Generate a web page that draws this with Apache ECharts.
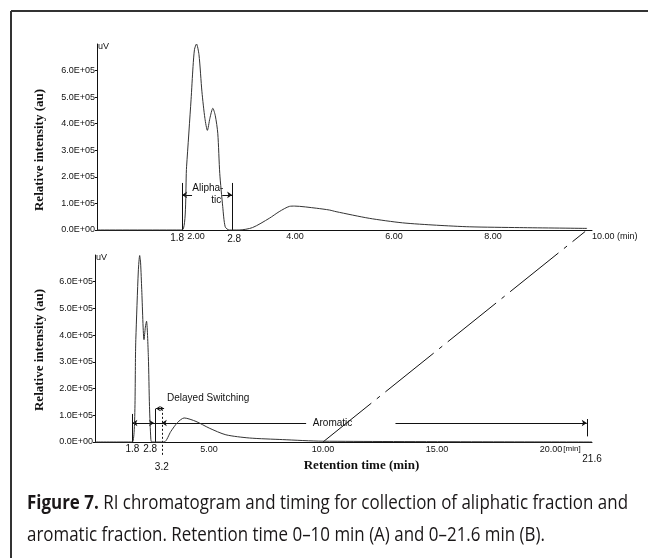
<!DOCTYPE html>
<html>
<head>
<meta charset="utf-8">
<script src="https://cdn.jsdelivr.net/npm/echarts@6/dist/echarts.min.js"></script>
<style>
  html, body { margin: 0; padding: 0; background: #fff; }
  #chart-container { width: 648px; height: 558px; }
</style>
</head>
<body>
<div id="chart-container"></div>
<script>
// (A) 0-10 min chromatogram (uV)
const timeA = [0, 1.72, 1.81, 1.90, 1.94, 1.97, 2.01, 2.06, 2.12, 2.18, 2.23, 2.28, 2.34, 2.39, 2.44, 2.48, 2.54, 2.59, 2.67,
  2.87, 3.14, 3.48, 3.68, 3.89, 3.99, 4.43, 4.70, 4.83, 5.50, 6.17, 6.86, 7.53, 8.54, 9.90];
const signalA = [0, 0, 240000, 490000, 615000, 680000, 700000, 660000, 520000, 420000, 375000, 420000, 458000, 430000, 364000, 213000, 88000, 12000, 0,
  0, 9000, 44000, 69000, 89000, 90000, 82000, 75000, 69000, 44000, 27000, 18000, 12000, 9000, 6000];

// (B) 0-21.6 min chromatogram (uV)
const timeB = [0, 1.64, 1.79, 1.90, 1.96, 2.00, 2.05, 2.15, 2.21, 2.26, 2.34, 2.39, 2.45, 2.49,
  3.03, 3.33, 3.62, 3.91, 4.43, 5.01, 5.74, 6.77, 8.23, 10.0, 21.8];
const signalB = [0, 0, 383000, 640000, 698000, 670000, 570000, 383000, 430000, 452000, 320000, 133000, 10000, 0,
  0, 40000, 73000, 90000, 77000, 52000, 27000, 15000, 9000, 3000, 0];

// collection timing marks (min)
const aliphaticCuts = [1.72, 2.73];
const aliphaticCutLabels = ['1.8', '2.8'];
const aromaticCuts = [1.64, 2.64];
const aromaticCutLabels = ['1.8', '2.8'];
const switchTime = 2.93;
const switchLabel = '3.2';
const aromaticEnd = 21.57;
const aromaticEndLabel = '21.6';

// tick labels
const yTicks = [0, 100000, 200000, 300000, 400000, 500000, 600000];
const xTicksA = [2, 4, 6, 8, 10];
const xTicksB = [5, 10, 15, 20];

const captionBold = 'Figure 7.';
const captionLine1 = ' RI chromatogram and timing for collection of aliphatic fraction and';
const captionLine2 = 'aromatic fraction. Retention time 0\u201310 min (A) and 0\u201321.6 min (B).';

const ink = '#111';
const sans = 'Liberation Sans, Arial, sans-serif';
const serif = 'Liberation Serif, Times New Roman, serif';

function zip(t, v) { return t.map((x, i) => [x, v[i]]); }
function yLabel(v) { return v === 0 ? '0.0E+00' : (v / 100000).toFixed(1) + 'E+05'; }

// caption width, squeeze to fit the column like the printed caption
const capFont = '20px "Open Sans", sans-serif';
const capBoldFont = 'bold 20px "Open Sans", sans-serif';
const cv = document.createElement('canvas').getContext('2d');
cv.font = capBoldFont;
const wBold = cv.measureText(captionBold).width;
cv.font = capFont;
const wRest = cv.measureText(captionLine1).width;
const capScale = 601 / (wBold + wRest);

var dom = document.getElementById('chart-container');
var myChart = echarts.init(dom, null, { renderer: 'canvas' });

function vline(x, y0, y1) { return { coords: [[x, y0], [x, y1]] }; }

var textStyleBase = { color: ink, fontFamily: sans, fontSize: 9, opacity: 1, textBorderWidth: 0 };
var titleFont = 'bold 13px ' + serif;

var option = {
  animation: false,
  backgroundColor: '#fff',
  grid: [
    { left: 97, top: 44, width: 495, height: 186, containLabel: false, outerBoundsMode: 'none' },
    { left: 95, top: 255, width: 497, height: 187, containLabel: false, outerBoundsMode: 'none' }
  ],
  xAxis: [
    {
      gridIndex: 0, type: 'value', min: 0, max: 10, interval: 2,
      axisLine: { lineStyle: { color: ink, width: 1 } },
      axisTick: { show: false }, splitLine: { show: false },
      axisLabel: {
        ...textStyleBase, margin: 2, showMinLabel: false, alignMaxLabel: 'left',
        formatter: v => xTicksA.includes(v) ? (v === 10 ? '10.00 (min)' : v.toFixed(2)) : ''
      }
    },
    {
      gridIndex: 1, type: 'value', min: 0, max: 21.8, interval: 5,
      axisLine: { lineStyle: { color: ink, width: 1 } },
      axisTick: { show: false }, splitLine: { show: false },
      axisLabel: {
        ...textStyleBase, margin: 3, showMinLabel: false, showMaxLabel: false,
        formatter: v => xTicksB.includes(v) ? v.toFixed(2) : ''
      },
      name: 'Retention time (min)', nameLocation: 'middle', nameGap: 17,
      nameTextStyle: { color: ink, fontFamily: serif, fontWeight: 'bold', fontSize: 13, padding: [0, 0, 0, 36] }
    }
  ],
  yAxis: [0, 1].map(i => ({
    gridIndex: i, type: 'value', min: 0, max: 700000, interval: 100000,
    axisLine: { show: true, lineStyle: { color: ink, width: 1 } },
    axisTick: { show: true, length: 2, lineStyle: { color: ink } },
    splitLine: { show: false },
    axisLabel: { ...textStyleBase, margin: 2, showMaxLabel: false, formatter: v => yTicks.includes(v) ? yLabel(v) : '' }
  })),
  graphic: [
    { type: 'line', shape: { x1: 11, y1: 11, x2: 648, y2: 11 }, style: { stroke: '#333', lineWidth: 2 } },
    { type: 'line', shape: { x1: 11, y1: 11, x2: 11, y2: 558 }, style: { stroke: '#333', lineWidth: 2 } },
    { type: 'text', x: 40, y: 150, rotation: Math.PI / 2, style: { text: 'Relative intensity (au)', font: titleFont, fill: ink, align: 'center', verticalAlign: 'middle' } },
    { type: 'text', x: 40, y: 350, rotation: Math.PI / 2, style: { text: 'Relative intensity (au)', font: titleFont, fill: ink, align: 'center', verticalAlign: 'middle' } },
    { type: 'text', x: 98, y: 47, style: { text: 'uV', font: '9px ' + sans, fill: ink, verticalAlign: 'middle' } },
    { type: 'text', x: 96, y: 258, style: { text: 'uV', font: '9px ' + sans, fill: ink, verticalAlign: 'middle' } },
    { type: 'text', x: 27, y: 503, scaleX: capScale, style: { text: captionBold, font: capBoldFont, fill: '#1a1718', verticalAlign: 'middle' } },
    { type: 'text', x: 27 + wBold * capScale, y: 503, scaleX: capScale, style: { text: captionLine1, font: capFont, fill: '#1a1718', verticalAlign: 'middle' } },
    { type: 'text', x: 27, y: 535, scaleX: capScale, style: { text: captionLine2, font: capFont, fill: '#1a1718', verticalAlign: 'middle' } }
  ],
  series: [
    {
      type: 'line', xAxisIndex: 0, yAxisIndex: 0, data: zip(timeA, signalA),
      showSymbol: false, smooth: 0.25, clip: false,
      lineStyle: { color: '#333', width: 1 }
    },
    {
      type: 'line', xAxisIndex: 1, yAxisIndex: 1, data: zip(timeB, signalB),
      showSymbol: false, smooth: 0.25, clip: false,
      lineStyle: { color: '#333', width: 1 }
    },
    // cut lines and arrows, chart A
    {
      type: 'lines', coordinateSystem: 'cartesian2d', xAxisIndex: 0, yAxisIndex: 0, clip: false,
      symbol: ['none', 'none'],
      lineStyle: { color: ink, width: 1, opacity: 1 },
      data: aliphaticCuts.map(x => vline(x, 0, 177000))
    },
    {
      type: 'lines', coordinateSystem: 'cartesian2d', xAxisIndex: 0, yAxisIndex: 0, clip: false,
      symbol: ['none', 'arrow'], symbolSize: 5,
      lineStyle: { color: ink, width: 1, opacity: 1 },
      data: [
        { coords: [[aliphaticCuts[0] + 0.2, 132000], [aliphaticCuts[0], 132000]] },
        { coords: [[aliphaticCuts[1] - 0.2, 132000], [aliphaticCuts[1], 132000]] }
      ]
    },
    // cut lines chart B
    {
      type: 'lines', coordinateSystem: 'cartesian2d', xAxisIndex: 1, yAxisIndex: 1, clip: false,
      symbol: ['none', 'none'],
      lineStyle: { color: ink, width: 1, opacity: 1 },
      data: [vline(aromaticCuts[0], 0, 105000), vline(aromaticCuts[1], 0, 125000), vline(aromaticEnd, 21000, 86000)]
    },
    {
      type: 'lines', coordinateSystem: 'cartesian2d', xAxisIndex: 1, yAxisIndex: 1, clip: false,
      symbol: ['none', 'none'],
      lineStyle: { color: ink, width: 1, opacity: 1, type: [2, 2] },
      data: [vline(switchTime, -48000, 120000)]
    },
    {
      type: 'lines', coordinateSystem: 'cartesian2d', xAxisIndex: 1, yAxisIndex: 1, clip: false,
      symbol: ['arrow', 'none'], symbolSize: 5,
      lineStyle: { color: ink, width: 1, opacity: 1 },
      data: [
        { coords: [[aromaticCuts[0], 71000], [9.26, 71000]] },
        { coords: [[switchTime, 71000], [switchTime + 0.3, 71000]] }
      ]
    },
    {
      type: 'lines', coordinateSystem: 'cartesian2d', xAxisIndex: 1, yAxisIndex: 1, clip: false,
      symbol: ['none', 'arrow'], symbolSize: 5,
      lineStyle: { color: ink, width: 1, opacity: 1 },
      data: [
        { coords: [[13.18, 71000], [aromaticEnd, 71000]] },
        { coords: [[aromaticCuts[1] - 0.35, 71000], [aromaticCuts[1] - 0.05, 71000]] }
      ]
    },
    {
      type: 'lines', coordinateSystem: 'cartesian2d', xAxisIndex: 1, yAxisIndex: 1, clip: false,
      symbol: ['arrow', 'arrow'], symbolSize: 4,
      lineStyle: { color: ink, width: 1, opacity: 1 },
      data: [{ coords: [[2.68, 125000], [3.03, 125000]] }]
    },
    // zoom guide from 10 min of (B) up to the end of (A)
    {
      type: 'lines', coordinateSystem: 'cartesian2d', xAxisIndex: 1, yAxisIndex: 1, clip: false,
      symbol: ['none', 'none'],
      lineStyle: { color: ink, width: 1, opacity: 1, type: [62, 7, 4, 7] },
      data: [{ coords: [[10, 0], [21.5, 788000]] }]
    },
    // text annotations, chart A
    {
      type: 'scatter', xAxisIndex: 0, yAxisIndex: 0, symbolSize: 0, clip: false, silent: true,
      itemStyle: { opacity: 1 },
      label: { show: true, position: 'inside', formatter: '{b}', ...textStyleBase, fontSize: 10 },
      data: [
        { name: aliphaticCutLabels[0], value: [1.62, -30000] },
        { name: aliphaticCutLabels[1], value: [2.77, -34000] },
        { name: 'Alipha-', value: [2.24, 158000] },
        { name: 'tic', value: [2.41, 113000] }
      ]
    },
    // text annotations, chart B
    {
      type: 'scatter', xAxisIndex: 1, yAxisIndex: 1, symbolSize: 0, clip: false, silent: true,
      itemStyle: { opacity: 1 },
      label: { show: true, position: 'inside', formatter: '{b}', ...textStyleBase, fontSize: 10 },
      data: [
        { name: aromaticCutLabels[0], value: [aromaticCuts[0], -29000] },
        { name: aromaticCutLabels[1], value: [2.42, -29000] },
        { name: switchLabel, value: [2.93, -96000] },
        { name: aromaticEndLabel, value: [21.8, -66000] },
        { name: '[min]', value: [20.92, -27000], label: { fontSize: 8 } },
        { name: 'Aromatic', value: [10.42, 71000] },
        { name: 'Delayed Switching', value: [3.16, 162000], label: { position: 'right', distance: 0 } }
      ]
    }
  ]
};

if (option && typeof option === 'object') {
  myChart.setOption(option);
}
window.addEventListener('resize', myChart.resize);
</script>
</body>
</html>
